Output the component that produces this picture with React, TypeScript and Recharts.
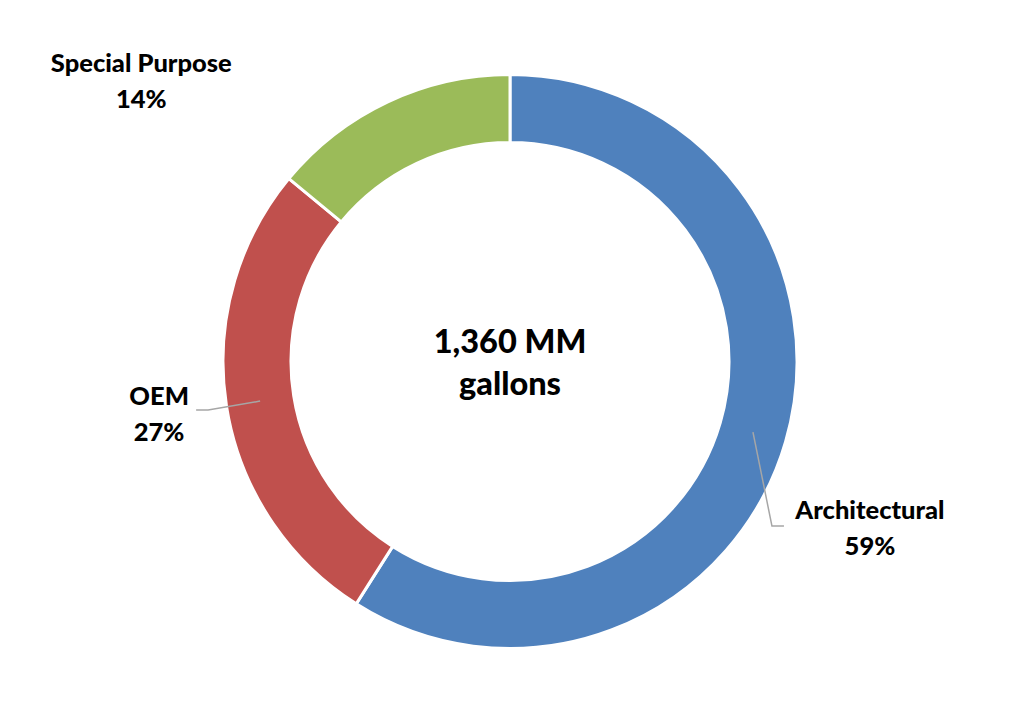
import { PieChart, Pie, Cell } from 'recharts'

const categories = ['Architectural', 'OEM', 'Special Purpose']
const shares = [59, 27, 14]
const colors = ['#4F81BD', '#C0504D', '#9BBB59']

const totalLabel = ['1,360 MM', 'gallons']

// Hand-placed label layout (like the Excel source), relative to the ring's mid point of each slice
const labelLayout: Record<string, { text: [number, number]; line?: [number, number][] }> = {
  Architectural: { text: [117, 78], line: [[0, 0], [19, 94], [31, 94]] },
  OEM: { text: [-101, -5], line: [[0, 0], [-52, 9], [-64, 9]] },
  'Special Purpose': { text: [-261, -70] },
}

const RADIAN = Math.PI / 180
const FONT = 'Lato, "Open Sans", sans-serif'

const data = categories.map((name, i) => ({ name, value: shares[i] }))

function renderLabel(props: any) {
  const { cx, cy, midAngle, innerRadius, outerRadius, name, percent } = props
  const r = (innerRadius + outerRadius) / 2
  const ax = cx + r * Math.cos(-midAngle * RADIAN)
  const ay = cy + r * Math.sin(-midAngle * RADIAN)
  const layout = labelLayout[name]
  const tx = ax + layout.text[0]
  const ty = ay + layout.text[1]
  return (
    <g>
      {layout.line && (
        <polyline
          points={layout.line.map(([dx, dy]) => `${ax + dx},${ay + dy}`).join(' ')}
          fill="none"
          stroke="#A6A6A6"
          strokeWidth={1.5}
        />
      )}
      <text
        x={tx}
        textAnchor="middle"
        fontFamily={FONT}
        fontWeight={900}
        fontSize={25.5}
        fill="#000"
      >
        <tspan x={tx} y={ty + 9}>{name}</tspan>
        <tspan x={tx} y={ty + 45}>{`${Math.round(percent * 100)}%`}</tspan>
      </text>
    </g>
  )
}

export default function App() {
  return (
    <div style={{ position: 'absolute', left: 0, top: 0, width: 1024, height: 723, background: '#fff' }}>
      <PieChart width={1024} height={723} margin={{ top: 0, right: 0, bottom: 0, left: 0 }}>
        <Pie
          data={data}
          dataKey="value"
          nameKey="name"
          cx={510}
          cy={361.5}
          innerRadius={219}
          outerRadius={287}
          startAngle={90}
          endAngle={-270}
          stroke="#fff"
          strokeWidth={3}
          label={renderLabel}
          labelLine={false}
          isAnimationActive={false}
        >
          {data.map((d, i) => (
            <Cell key={d.name} fill={colors[i]} />
          ))}
        </Pie>
      </PieChart>
      <div
        style={{
          position: 'absolute',
          left: 360,
          top: 320,
          width: 300,
          textAlign: 'center',
          fontFamily: FONT,
          fontWeight: 900,
          fontSize: 32.5,
          lineHeight: '42px',
          color: '#000',
        }}
      >
        {totalLabel.map(t => (
          <div key={t}>{t}</div>
        ))}
      </div>
    </div>
  )
}
